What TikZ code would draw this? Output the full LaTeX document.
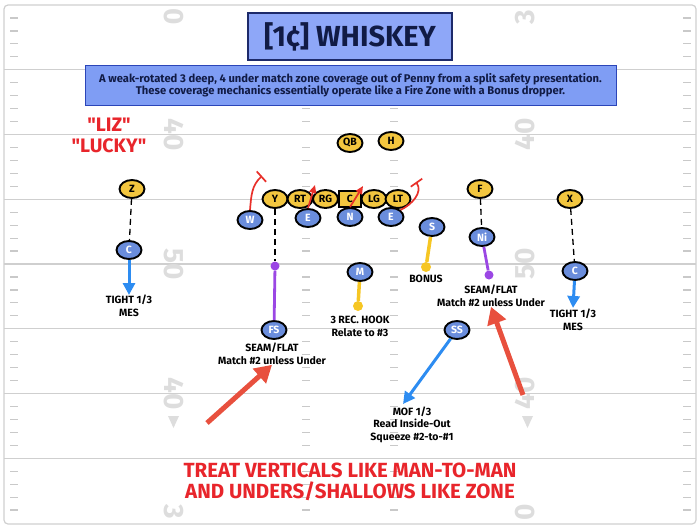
\documentclass[tikz,border=0pt]{standalone}
\usepackage{fontspec}
\setmainfont{Fira Sans}[Ligatures=TeXOff]
\usepackage{tikz}
\usetikzlibrary{arrows.meta,positioning,shapes.geometric}
\definecolor{fieldgray}{HTML}{CFCFCF}
\definecolor{hashgray}{HTML}{C9C9C9}
\definecolor{numgray}{HTML}{DDDDDD}
\definecolor{titlefill}{HTML}{8EA7F8}
\definecolor{titleedge}{HTML}{1D2A6A}
\definecolor{infofill}{HTML}{7F9DF4}
\definecolor{infoedge}{HTML}{2B45B8}
\definecolor{navytext}{HTML}{111B45}
\definecolor{offyellow}{HTML}{F3C63F}
\definecolor{defblue}{HTML}{6A8DDC}
\definecolor{deepblue}{HTML}{2D8CF1}
\definecolor{seampurple}{HTML}{9B47E4}
\definecolor{hookyellow}{HTML}{F6C623}
\definecolor{rushred}{HTML}{E8302A}
\definecolor{pointred}{HTML}{E8503E}
\definecolor{callred}{HTML}{E8252B}
\tikzset{
  yardline/.style={draw=fieldgray, line width=1.4pt},
  hashmark/.style={draw=hashgray, line width=1.2pt},
  yardnum/.style={text=numgray, font=\bfseries\fontsize{28}{28}\selectfont, inner sep=0pt},
  titlebox/.style={draw=titleedge, line width=1.2pt, fill=titlefill, text=navytext, minimum width=204pt, minimum height=47pt, font=\bfseries\fontsize{29}{29}\selectfont},
  infobox/.style={draw=infoedge, line width=1pt, fill=infofill, text=navytext, align=center, minimum width=531pt, minimum height=40pt, font=\bfseries\fontsize{11.2}{12.5}\selectfont},
  offplayer/.style={ellipse, draw=black, line width=1.9pt, fill=offyellow, inner sep=0pt, minimum width=25pt, minimum height=18pt, font=\bfseries\fontsize{10.5}{10.5}\selectfont},
  defplayer/.style={offplayer, fill=defblue, text=white},
  snapbox/.style={rectangle, draw=black, line width=1.9pt, fill=offyellow, inner sep=0pt, minimum width=22pt, minimum height=16pt, font=\bfseries\fontsize{10.5}{10.5}\selectfont},
  seamdot/.style={circle, fill=seampurple, inner sep=0pt, minimum size=9pt},
  hookdot/.style={circle, fill=hookyellow, inner sep=0pt, minimum size=10pt},
  note/.style={align=center, inner sep=0pt, font=\bfseries\fontsize{10.5}{12.5}\selectfont},
  callout/.style={text=callred, inner sep=0pt, font=\bfseries\fontsize{19.5}{19.5}\selectfont},
  banner/.style={text=callred, align=center, inner sep=0pt, font=\bfseries\fontsize{20.5}{21.5}\selectfont},
  coverline/.style={draw=black, line width=1.3pt, dash pattern=on 6pt off 4pt},
  deeparrow/.style={draw=deepblue, line width=3pt, -{Triangle[width=12pt,length=12pt]}},
  seamline/.style={draw=seampurple, line width=2.8pt},
  hookline/.style={draw=hookyellow, line width=3.5pt},
  rush/.style={draw=rushred, line width=1.7pt},
  pointer/.style={draw=pointred, line width=5pt, -{Triangle[width=19pt,length=17pt]}}
}
\begin{document}
\begin{tikzpicture}[x=1pt,y=1pt]
  \useasboundingbox (0,0) rectangle (700,-530);
  % field
  \draw[draw=fieldgray, line width=1.2pt, rounded corners=4pt] (4,-5) rectangle (696,-524);
  \foreach \k in {5,10,...,35}
    \draw[yardline] (4,-5-12.95*\k) -- (696,-5-12.95*\k);
  \foreach \k in {1,...,39}{
    \pgfmathtruncatemacro\r{mod(\k,5)}
    \ifnum\r>0
      \draw[hashmark] (10,-5-12.95*\k) -- (18,-5-12.95*\k);
      \draw[hashmark] (302,-5-12.95*\k) -- (310,-5-12.95*\k);
      \draw[hashmark] (390,-5-12.95*\k) -- (398,-5-12.95*\k);
      \draw[hashmark] (683,-5-12.95*\k) -- (691,-5-12.95*\k);
    \fi
  }
  \foreach \k/\n in {10/40,20/50,30/40}{
    \node[yardnum, rotate=-90] at (174,-5-12.95*\k) {\n};
    \node[yardnum, rotate=90] at (525,-5-12.95*\k) {\n};
  }
  \node[yardnum, rotate=-90] (numTL) at (174,-17) {0};
  \node[yardnum, rotate=90] (numTR) at (525,-17) {3};
  \node[yardnum, rotate=-90] (numBL) at (174,-512) {3};
  \node[yardnum, rotate=90] (numBR) at (525,-512) {0};
  \fill[numgray] (168,-416) -- (179,-416) -- (173.5,-428) -- cycle;
  \fill[numgray] (522,-416) -- (533,-416) -- (527.5,-428) -- cycle;

  % header
  \node[titlebox] (title) at (350,-36.5) {[1¢] WHISKEY};
  \node[infobox] (info) at (350.5,-85) {A weak-rotated 3 deep, 4 under match zone coverage out of Penny from a split safety presentation.\\These coverage mechanics essentially operate like a Fire Zone with a Bonus dropper.};
  \node[callout] (liz) at (109,-125) {"LIZ"};
  \node[callout, below=6pt of liz] (lucky) {"LUCKY"};

  % offense
  \node[offplayer] (QB) at (350,-143) {QB};
  \node[offplayer] (H) at (391,-141) {H};
  \node[offplayer] (Z) at (132,-189) {Z};
  \node[offplayer] (Y) at (275,-199) {Y};
  \node[offplayer] (RT) at (300,-199) {RT};
  \node[offplayer] (RG) at (325.5,-199) {RG};
  \node[snapbox] (C) at (350,-199) {C};
  \node[offplayer] (LG) at (374,-199) {LG};
  \node[offplayer] (LT) at (398,-199) {LT};
  \node[offplayer] (F) at (480,-189) {F};
  \node[offplayer] (X) at (570,-199) {X};

  % defense
  \node[defplayer] (W) at (250,-220) {W};
  \node[defplayer] (EL) at (308,-218) {E};
  \node[defplayer] (N) at (350,-217) {N};
  \node[defplayer] (ER) at (391,-217) {E};
  \node[defplayer] (S) at (432,-227) {S};
  \node[defplayer] (Ni) at (482,-237) {Ni};
  \node[defplayer] (CL) at (129,-250) {C};
  \node[defplayer] (M) at (360,-272) {M};
  \node[defplayer] (CR) at (575,-271) {C};
  \node[defplayer] (FS) at (274,-330) {FS};
  \node[defplayer] (SS) at (457,-330) {SS};

  % rush
  \coordinate (Wend) at (262,-176);
  \coordinate (ELend) at (315,-185);
  \coordinate (Nend) at (363,-186);
  \coordinate (ERend) at (416,-182);
  \draw[rush, -{Bar[width=14pt]}] (W.north) to[out=85,in=222] (Wend);
  \draw[rush, -{Triangle[width=7pt,length=8pt]}] (EL.north) -- (ELend);
  \draw[rush, -{Triangle[width=7pt,length=8pt]}] (N.north) -- (Nend);
  \draw[rush, -{Bar[width=14pt]}] (ER.north east) to[out=25,in=-55] (ERend);

  % coverage
  \node[seamdot] (FSdot) at (275,-266) {};
  \node[hookdot] (Mdot) at (358,-306) {};
  \node[hookdot] (Sdot) at (426,-267) {};
  \node[seamdot] (Nidot) at (489,-275) {};
  \coordinate (CLend) at (129,-295);
  \coordinate (CRend) at (573,-308);
  \coordinate (SSend) at (403,-404);
  \draw[coverline] (Z) -- (CL);
  \draw[coverline] (Y) -- (FSdot);
  \draw[coverline] (F) -- (Ni);
  \draw[coverline] (X) -- (CR);
  \draw[deeparrow] (CL) -- (CLend);
  \draw[deeparrow] (CR) -- (CRend);
  \draw[deeparrow] (SS) -- (SSend);
  \draw[seamline] (FSdot) -- (FS);
  \draw[seamline] (Ni) -- (Nidot);
  \draw[hookline] (M) -- (Mdot);
  \draw[hookline] (S) -- (Sdot);

  % notes
  \node[note] (tightL) at (129,-306) {TIGHT 1/3\\MES};
  \node[note] (tightR) at (573,-320) {TIGHT 1/3\\MES};
  \node[note] (seamFS) at (272,-354) {SEAM/FLAT\\Match \#2 unless Under};
  \node[note] (hook) at (360,-326.5) {3 REC. HOOK\\Relate to \#3};
  \node[note] (bonus) at (426,-279) {BONUS};
  \node[note] (seamNi) at (491,-296) {SEAM/FLAT\\Match \#2 unless Under};
  \node[note] (mof) at (412,-424.5) {MOF 1/3\\Read Inside-Out\\Squeeze \#2-to-\#1};

  % emphasis
  \coordinate (ptL) at (207,-423);
  \coordinate (ptR) at (523,-395);
  \draw[pointer] (ptL) -- (seamFS.south);
  \draw[pointer] (ptR) -- (seamNi.south);
  \node[banner] (rule) at (350,-482) {TREAT VERTICALS LIKE MAN-TO-MAN\\AND UNDERS/SHALLOWS LIKE ZONE};
\end{tikzpicture}
\end{document}
